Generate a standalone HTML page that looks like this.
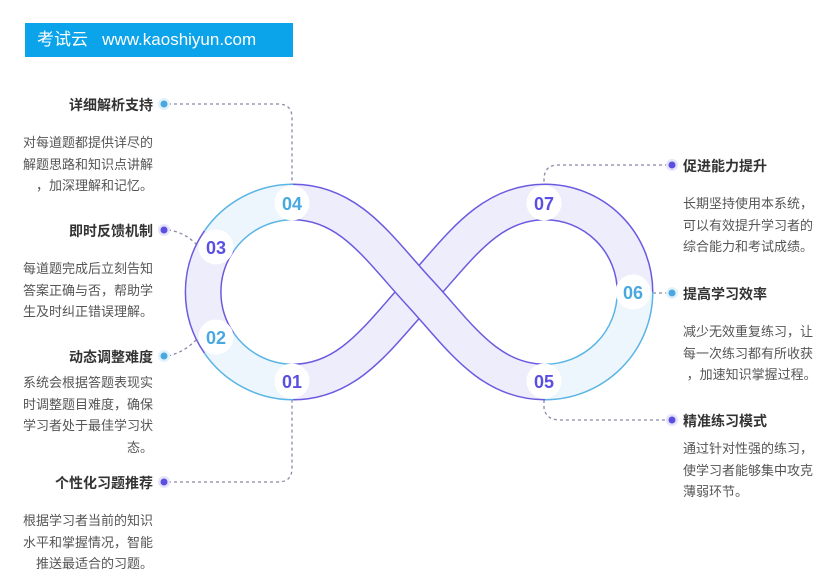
<!DOCTYPE html>
<html><head><meta charset="utf-8"><style>
body{margin:0;width:827px;height:586px;background:#fff;position:relative;overflow:hidden;font-family:"Liberation Sans","Noto Sans CJK SC",sans-serif}
.hdr{position:absolute;left:25px;top:23px;width:268px;height:34px;background:#0ba3e9;color:#fff;font-size:17px;line-height:34px;padding-left:12px;box-sizing:border-box;white-space:pre}
.t{position:absolute;font-size:14px;font-weight:bold;color:#333;white-space:nowrap}
.d{position:absolute;font-size:13px;color:#555;line-height:21.5px;white-space:nowrap}
.l{text-align:right}
</style></head><body>
<div class="hdr">考试云   www.kaoshiyun.com</div>
<svg width="827" height="586" style="position:absolute;left:0;top:0">
<g fill="none" stroke="#8a89a8" stroke-width="1.3" stroke-dasharray="3,3">
<path d="M168 104 H278 Q292 104 292 118 V186"/>
<path d="M168 230 Q185 232 198 246"/>
<path d="M168 356 Q185 352 198 338"/>
<path d="M168 482 H278 Q292 482 292 468 V400"/>
<path d="M668 165 H558 Q544 165 544 180 V186"/>
<path d="M668 293 H651"/>
<path d="M544 400 V408 Q546 420 560 420 H668"/>
</g>
<g fill="none" stroke-linecap="butt">
<path d="M293 382 C350 382 380 334 419 292 C458 250 488 202 545 202" stroke="#6a5ae0" stroke-width="37"/>
<path d="M293 382 C350 382 380 334 419 292 C458 250 488 202 545 202" stroke="#eeedfb" stroke-width="34"/>
<path d="M293 202 A90 90 0 0 0 219 241" stroke="#5ab4e5" stroke-width="37"/>
<path d="M219 241 A90 90 0 0 0 219 343" stroke="#6a5ae0" stroke-width="37"/>
<path d="M219 343 A90 90 0 0 0 293 382" stroke="#5ab4e5" stroke-width="37"/>
<path d="M545 202 A90 90 0 0 1 635 292" stroke="#6a5ae0" stroke-width="37"/>
<path d="M635 292 A90 90 0 0 1 545 382" stroke="#5ab4e5" stroke-width="37"/>
<path d="M293 202 A90 90 0 0 0 219 241" stroke="#eef6fd" stroke-width="34"/>
<path d="M219 241 A90 90 0 0 0 219 343" stroke="#eeedfb" stroke-width="34"/>
<path d="M219 343 A90 90 0 0 0 293 382" stroke="#eef6fd" stroke-width="34"/>
<path d="M545 202 A90 90 0 0 1 635 292" stroke="#eeedfb" stroke-width="34"/>
<path d="M635 292 A90 90 0 0 1 545 382" stroke="#eef6fd" stroke-width="34"/>
<path d="M293 202 C350 202 380 250 419 292 C458 334 488 382 545 382" stroke="#6a5ae0" stroke-width="37"/>
<path d="M293 202 C350 202 380 250 419 292 C458 334 488 382 545 382" stroke="#eeedfb" stroke-width="34"/>
</g>
<g font-size="18" font-weight="bold" text-anchor="middle" font-family="Liberation Sans, sans-serif">
<circle cx="292" cy="203" r="17" fill="#fff" stroke="#fff"/><text x="292" y="210" fill="#4aa8e0">04</text>
<circle cx="216" cy="247" r="17" fill="#fff" stroke="#fff"/><text x="216" y="254" fill="#5a4fe0">03</text>
<circle cx="216" cy="337" r="17" fill="#fff" stroke="#fff"/><text x="216" y="344" fill="#4aa8e0">02</text>
<circle cx="292" cy="381" r="17" fill="#fff" stroke="#fff"/><text x="292" y="388" fill="#5a4fe0">01</text>
<circle cx="544" cy="203" r="17" fill="#fff" stroke="#fff"/><text x="544" y="210" fill="#5a4fe0">07</text>
<circle cx="633" cy="292" r="17" fill="#fff" stroke="#fff"/><text x="633" y="299" fill="#4aa8e0">06</text>
<circle cx="544" cy="381" r="17" fill="#fff" stroke="#fff"/><text x="544" y="388" fill="#5a4fe0">05</text>
</g>
<g>
<circle cx="164" cy="104" r="6" fill="#e3f1fb"/><circle cx="164" cy="104" r="3.5" fill="#4aa8e0"/>
<circle cx="164" cy="230" r="6" fill="#e6e4fb"/><circle cx="164" cy="230" r="3.5" fill="#5a4fe0"/>
<circle cx="164" cy="356" r="6" fill="#e3f1fb"/><circle cx="164" cy="356" r="3.5" fill="#4aa8e0"/>
<circle cx="164" cy="482" r="6" fill="#e6e4fb"/><circle cx="164" cy="482" r="3.5" fill="#5a4fe0"/>
<circle cx="672" cy="165" r="6" fill="#e6e4fb"/><circle cx="672" cy="165" r="3.5" fill="#5a4fe0"/>
<circle cx="672" cy="293" r="6" fill="#e3f1fb"/><circle cx="672" cy="293" r="3.5" fill="#4aa8e0"/>
<circle cx="672" cy="420" r="6" fill="#e6e4fb"/><circle cx="672" cy="420" r="3.5" fill="#5a4fe0"/>
</g>
</svg>
<div class="t l" style="right:674px;top:95px">详细解析支持</div>
<div class="d l" style="right:674px;top:132px">对每道题都提供详尽的<br>解题思路和知识点讲解<br>，加深理解和记忆。</div>
<div class="t l" style="right:674px;top:221px">即时反馈机制</div>
<div class="d l" style="right:674px;top:258px">每道题完成后立刻告知<br>答案正确与否，帮助学<br>生及时纠正错误理解。</div>
<div class="t l" style="right:674px;top:347px">动态调整难度</div>
<div class="d l" style="right:674px;top:372px">系统会根据答题表现实<br>时调整题目难度，确保<br>学习者处于最佳学习状<br>态。</div>
<div class="t l" style="right:674px;top:473px">个性化习题推荐</div>
<div class="d l" style="right:674px;top:510px">根据学习者当前的知识<br>水平和掌握情况，智能<br>推送最适合的习题。</div>
<div class="t" style="left:683px;top:156px">促进能力提升</div>
<div class="d" style="left:683px;top:193px">长期坚持使用本系统，<br>可以有效提升学习者的<br>综合能力和考试成绩。</div>
<div class="t" style="left:683px;top:284px">提高学习效率</div>
<div class="d" style="left:683px;top:321px">减少无效重复练习，让<br>每一次练习都有所收获<br>&nbsp;，加速知识掌握过程。</div>
<div class="t" style="left:683px;top:411px">精准练习模式</div>
<div class="d" style="left:683px;top:438px">通过针对性强的练习，<br>使学习者能够集中攻克<br>薄弱环节。</div>
</body></html>
